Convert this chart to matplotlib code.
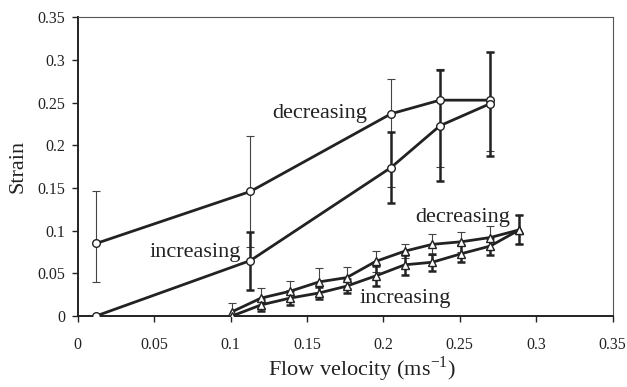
import numpy as np
import matplotlib
matplotlib.use("Agg")
import matplotlib.pyplot as plt

# circles: larger strain series
circ_x = [0.012, 0.113, 0.205, 0.237, 0.270]
circ_dec_y = [0.085, 0.146, 0.237, 0.253, 0.253]
circ_dec_up = [0.061, 0.065, 0.041, 0.036, 0.057]
circ_dec_dn = [0.045, 0.065, 0.086, 0.078, 0.060]
circ_inc_y = [0.0, 0.065, 0.174, 0.223, 0.249]
circ_inc_err = [0.0, 0.034, 0.042, 0.065, 0.061]

# triangles: smaller strain series
tri_x = [0.101, 0.120, 0.139, 0.158, 0.176, 0.195, 0.214, 0.232, 0.251, 0.270, 0.289]
tri_dec_y = [0.005, 0.021, 0.029, 0.040, 0.045, 0.064, 0.076, 0.084, 0.087, 0.092, 0.101]
tri_dec_err = [0.010, 0.012, 0.012, 0.016, 0.012, 0.012, 0.008, 0.012, 0.012, 0.013, 0.017]
tri_inc_y = [0.0, 0.013, 0.021, 0.027, 0.035, 0.047, 0.060, 0.063, 0.073, 0.082, 0.101]
tri_inc_err = [0.0, 0.007, 0.008, 0.007, 0.008, 0.012, 0.012, 0.010, 0.010, 0.010, 0.017]

x_ticks = [0, 0.05, 0.1, 0.15, 0.2, 0.25, 0.3, 0.35]
x_labels = ["0", "0.05", "0.1", "0.15", "0.2", "0.25", "0.3", "0.35"]
y_ticks = [0, 0.05, 0.1, 0.15, 0.2, 0.25, 0.3, 0.35]
y_labels = ["0", "0.05", "0.1", "0.15", "0.2", "0.25", "0.3", "0.35"]

plt.rcParams['font.family'] = ['Liberation Serif', 'DejaVu Serif']
plt.rcParams['mathtext.fontset'] = 'custom'
plt.rcParams['mathtext.rm'] = 'Liberation Serif'
plt.rcParams['axes.unicode_minus'] = False

fig = plt.figure(figsize=(6.27, 3.87), dpi=100)
ax = fig.add_axes([0.124, 0.1835, 0.853, 0.7715])

ink = '#222222'
thin = dict(ecolor='#444444', elinewidth=0.8, capsize=3, capthick=0.8)
thick = dict(ecolor=ink, elinewidth=1.8, capsize=3, capthick=1.8)
mk = dict(color=ink, lw=2.0, mfc='white', mec=ink, mew=1.0, ms=5.5)

# circles
ax.errorbar(circ_x, circ_dec_y, yerr=[circ_dec_dn, circ_dec_up], fmt='none', **thin, zorder=2)
ax.errorbar(circ_x, circ_inc_y, yerr=circ_inc_err, fmt='none', **thick, zorder=2)
ax.plot(circ_x, circ_dec_y, marker='o', **mk, zorder=3)
ax.plot(circ_x, circ_inc_y, marker='o', **mk, zorder=3)

# triangles
ax.errorbar(tri_x, tri_dec_y, yerr=tri_dec_err, fmt='none', **thin, zorder=2)
ax.errorbar(tri_x, tri_inc_y, yerr=tri_inc_err, fmt='none', **thick, zorder=2)
ax.plot(tri_x, tri_dec_y, marker='^', **mk, zorder=3)
ax.plot(tri_x, tri_inc_y, marker='^', **mk, zorder=3)

ax.text(0.1893, 0.2317, "decreasing", ha='right', va='baseline', fontsize=16, color=ink)
ax.text(0.1067, 0.0695, "increasing", ha='right', va='baseline', fontsize=16, color=ink)
ax.text(0.2207, 0.1105, "decreasing", ha='left', va='baseline', fontsize=16, color=ink)
ax.text(0.1843, 0.0149, "increasing", ha='left', va='baseline', fontsize=16, color=ink)

ax.set_xlim(0, 0.35)
ax.set_ylim(0, 0.35)
ax.set_xticks(x_ticks)
ax.set_xticklabels(x_labels)
ax.set_yticks(y_ticks)
ax.set_yticklabels(y_labels)
ax.tick_params(axis='both', direction='out', length=4, width=1.0, colors=ink, labelsize=11.5)
ax.tick_params(axis='x', pad=11)
ax.tick_params(axis='y', pad=5)

for side in ['left', 'bottom']:
    ax.spines[side].set_linewidth(1.4)
    ax.spines[side].set_color(ink)
for side in ['top', 'right']:
    ax.spines[side].set_linewidth(0.8)
    ax.spines[side].set_color('#555555')

ax.set_xlabel(r"Flow velocity (ms$^{\mathrm{-1}}$)", fontsize=16, color=ink)
ax.set_ylabel("Strain", fontsize=16, color=ink)
ax.xaxis.set_label_coords(0.531, -0.128)
ax.yaxis.set_label_coords(-0.094, 0.5)

fig.savefig("out.png", dpi=100, facecolor='white')
